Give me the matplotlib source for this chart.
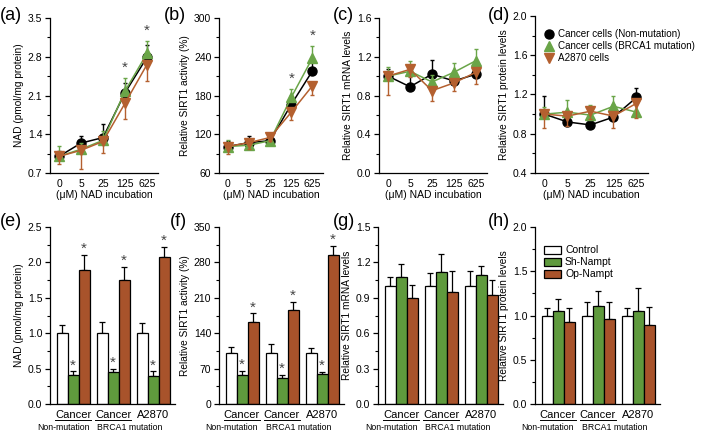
import matplotlib
matplotlib.use("Agg")
import matplotlib.pyplot as plt
import numpy as np
from matplotlib.ticker import MultipleLocator
from matplotlib.lines import Line2D
from matplotlib.patches import Patch

plt.rcParams.update({
    "font.family": "sans-serif",
    "font.sans-serif": ["Liberation Sans", "DejaVu Sans"],
    "font.size": 7,
    "axes.linewidth": 0.9,
})

# ---- data: top row, NAD incubation (uM) ----
doses = ["0", "5", "25", "125", "625"]

nad_non = [1.00, 1.24, 1.34, 2.15, 2.79]
nad_non_err = [0.10, 0.12, 0.24, 0.18, 0.22]
nad_brca = [1.00, 1.13, 1.29, 2.18, 2.86]
nad_brca_err = [0.19, 0.12, 0.16, 0.23, 0.22]
nad_a2870 = [1.00, 1.11, 1.27, 1.96, 2.66]
nad_a2870_err = [0.13, 0.33, 0.20, 0.28, 0.30]

act_non = [101, 107, 110, 166, 218]
act_non_err = [8, 10, 6, 14, 18]
act_brca = [101, 103, 110, 177, 238]
act_brca_err = [10, 8, 6, 13, 19]
act_a2870 = [101, 107, 115, 154, 195]
act_a2870_err = [12, 10, 6, 12, 14]

mrna_non = [1.00, 0.89, 1.02, 0.95, 1.02]
mrna_non_err = [0.07, 0.11, 0.15, 0.07, 0.12]
mrna_brca = [1.00, 1.05, 0.94, 1.04, 1.16]
mrna_brca_err = [0.09, 0.11, 0.07, 0.10, 0.12]
mrna_a2870 = [1.00, 1.07, 0.85, 0.93, 1.04]
mrna_a2870_err = [0.19, 0.08, 0.11, 0.08, 0.12]

prot_non = [1.00, 0.92, 0.89, 0.97, 1.17]
prot_non_err = [0.18, 0.08, 0.06, 0.12, 0.10]
prot_brca = [1.00, 1.02, 0.99, 1.08, 1.02]
prot_brca_err = [0.07, 0.12, 0.10, 0.10, 0.13]
prot_a2870 = [1.00, 0.98, 1.03, 0.98, 1.11]
prot_a2870_err = [0.14, 0.10, 0.08, 0.12, 0.15]

# ---- data: bottom row, Nampt manipulation ----
groups = ["Cancer", "Cancer", "A2870"]
sublabels = ["Non-mutation", "BRCA1 mutation"]

b_nad_ctrl = [1.00, 1.00, 1.00]
b_nad_ctrl_err = [0.12, 0.16, 0.14]
b_nad_sh = [0.41, 0.45, 0.40]
b_nad_sh_err = [0.05, 0.04, 0.06]
b_nad_op = [1.89, 1.75, 2.07]
b_nad_op_err = [0.21, 0.18, 0.15]

b_act_ctrl = [100, 100, 100]
b_act_ctrl_err = [13, 18, 10]
b_act_sh = [57, 52, 59]
b_act_sh_err = [8, 5, 4]
b_act_op = [163, 186, 295]
b_act_op_err = [16, 16, 17]

b_mrna_ctrl = [1.00, 1.00, 1.00]
b_mrna_ctrl_err = [0.08, 0.11, 0.13]
b_mrna_sh = [1.08, 1.12, 1.09]
b_mrna_sh_err = [0.11, 0.15, 0.08]
b_mrna_op = [0.90, 0.95, 0.92]
b_mrna_op_err = [0.11, 0.18, 0.13]

b_prot_ctrl = [1.00, 1.00, 1.00]
b_prot_ctrl_err = [0.09, 0.15, 0.08]
b_prot_sh = [1.05, 1.11, 1.05]
b_prot_sh_err = [0.14, 0.17, 0.26]
b_prot_op = [0.93, 0.96, 0.89]
b_prot_op_err = [0.15, 0.19, 0.21]

BLACK = "#000000"
GREEN_L = "#6aa548"
BROWN_L = "#b4602f"
GREEN_B = "#5f9a3d"
BROWN_B = "#a8532b"
STAR = "#444444"

W, H = 702, 433
fig = plt.figure(figsize=(W / 100, H / 100), dpi=100)


def axes_px(left, top, right, bottom):
    return fig.add_axes([left / W, 1 - bottom / H, (right - left) / W, (bottom - top) / H])


def style(ax, ylim, major):
    for s in ("top", "right"):
        ax.spines[s].set_visible(False)
    ax.set_ylim(*ylim)
    ax.yaxis.set_major_locator(MultipleLocator(major))
    ax.yaxis.set_minor_locator(MultipleLocator(major / 2))
    ax.tick_params(axis="y", which="major", direction="out", length=3.5, width=0.9, labelsize=7.5, pad=2)
    ax.tick_params(axis="y", which="minor", direction="out", length=2, width=0.8)
    ax.tick_params(axis="x", length=0, labelsize=7.5, pad=4)


def line_panel(ax, series, ylim, major, ylabel, stars=()):
    x = np.arange(len(doses))
    specs = [(BLACK, "o", 1), (GREEN_L, "^", 1), (BROWN_L, "v", -1)]
    order = [0, 2, 1]
    for k in order:
        vals, errs = series[k]
        col, mk, side = specs[k]
        vals = np.array(vals)
        errs = np.array(errs)
        yerr = [np.zeros_like(errs), errs] if side > 0 else [errs, np.zeros_like(errs)]
        ax.errorbar(x, vals, yerr=yerr, color=col, marker=mk, ms=6.5, lw=1.1,
                    elinewidth=1.0, capsize=1.5, capthick=1.0, mec=col, zorder=3 + k)
    for i in stars:
        top = max(series[0][0][i] + series[0][1][i], series[1][0][i] + series[1][1][i])
        ax.text(i, top + 0.02 * (ylim[1] - ylim[0]), "*", ha="center", va="bottom",
                fontsize=11, color=STAR)
    style(ax, ylim, major)
    ax.set_xlim(-0.41, 4.5)
    ax.set_xticks(x)
    ax.set_xticklabels(doses)
    ax.set_xlabel("(\u03bcM) NAD incubation", fontsize=7.5, labelpad=1)
    ax.set_ylabel(ylabel, fontsize=7.3, labelpad=3)


def bar_panel(ax, ctrl, sh, op, ylim, major, ylabel, stars=False):
    x = np.arange(len(groups))
    w = 0.275
    cfg = [(ctrl, "white", -w), (sh, GREEN_B, 0), (op, BROWN_B, w)]
    for (vals, errs), col, off in cfg:
        ax.bar(x + off, vals, w, color=col, edgecolor="black", linewidth=0.9, zorder=2)
        ax.errorbar(x + off, vals, yerr=[np.zeros(3), errs], fmt="none", ecolor="black",
                    elinewidth=0.9, capsize=2.5, capthick=0.9, zorder=1)
    if stars:
        span = ylim[1] - ylim[0]
        for (vals, errs), off in [(sh, 0), (op, w)]:
            for i in range(3):
                ax.text(x[i] + off, vals[i] + errs[i] - 0.005 * span, "*", ha="center",
                        va="bottom", fontsize=11, color=STAR)
    style(ax, ylim, major)
    ax.set_xlim(-0.575, 2.55)
    ax.set_xticks(x)
    ax.set_xticklabels(groups, fontsize=8)
    ax.set_ylabel(ylabel, fontsize=7.3, labelpad=3)
    tr = ax.get_xaxis_transform()
    for i in (0, 1):
        ax.plot([x[i] - 0.44, x[i] + 0.44], [-0.088, -0.088], color="black", lw=0.7,
                transform=tr, clip_on=False)
    ax.text(x[0] - 0.25, -0.135, sublabels[0], transform=tr, ha="center", va="center", fontsize=6.3)
    ax.text(x[1] - 0.41, -0.135, sublabels[1], transform=tr, ha="left", va="center", fontsize=6.3)


# ---- top row ----
ax_a = axes_px(50, 18, 158, 173)
line_panel(ax_a, [(nad_non, nad_non_err), (nad_brca, nad_brca_err), (nad_a2870, nad_a2870_err)],
           (0.7, 3.5), 0.7, "NAD (pmol/mg protein)", stars=(3, 4))

ax_b = axes_px(219, 18, 323, 173)
line_panel(ax_b, [(act_non, act_non_err), (act_brca, act_brca_err), (act_a2870, act_a2870_err)],
           (60, 300), 60, "Relative SIRT1 activity (%)", stars=(3, 4))

ax_c = axes_px(379, 18, 487, 173)
line_panel(ax_c, [(mrna_non, mrna_non_err), (mrna_brca, mrna_brca_err), (mrna_a2870, mrna_a2870_err)],
           (0.0, 1.6), 0.4, "Relative SIRT1 mRNA levels")

ax_d = axes_px(535, 16, 648, 173)
line_panel(ax_d, [(prot_non, prot_non_err), (prot_brca, prot_brca_err), (prot_a2870, prot_a2870_err)],
           (0.4, 2.0), 0.4, "Relative SIRT1 protein levels")

leg_h = [Line2D([], [], color=BLACK, marker="o", lw=0, ms=6.5),
         Line2D([], [], color=GREEN_L, marker="^", lw=0, ms=6.5),
         Line2D([], [], color=BROWN_L, marker="v", lw=0, ms=6.5)]
ax_d.legend(leg_h, ["Cancer cells (Non-mutation)", "Cancer cells (BRCA1 mutation)", "A2870 cells"],
            loc="upper left", bbox_to_anchor=(0.04, 0.94), frameon=False, fontsize=7.1,
            handletextpad=0.3, labelspacing=0.2, borderaxespad=0, handlelength=1.2)

# ---- bottom row ----
ax_e = axes_px(50, 227, 175, 404)
bar_panel(ax_e, (b_nad_ctrl, b_nad_ctrl_err), (b_nad_sh, b_nad_sh_err), (b_nad_op, b_nad_op_err),
          (0, 2.5), 0.5, "NAD (pmol/mg protein)", stars=True)

ax_f = axes_px(219, 227, 344, 404)
bar_panel(ax_f, (b_act_ctrl, b_act_ctrl_err), (b_act_sh, b_act_sh_err), (b_act_op, b_act_op_err),
          (0, 350), 70, "Relative SIRT1 activity (%)", stars=True)

ax_g = axes_px(378, 227, 503, 404)
bar_panel(ax_g, (b_mrna_ctrl, b_mrna_ctrl_err), (b_mrna_sh, b_mrna_sh_err), (b_mrna_op, b_mrna_op_err),
          (0, 1.5), 0.3, "Relative SIRT1 mRNA levels")

ax_h = axes_px(535, 227, 660, 404)
bar_panel(ax_h, (b_prot_ctrl, b_prot_ctrl_err), (b_prot_sh, b_prot_sh_err), (b_prot_op, b_prot_op_err),
          (0, 2.0), 0.5, "Relative SIRT1 protein levels")

bar_h = [Patch(facecolor="white", edgecolor="black", lw=0.9),
         Patch(facecolor=GREEN_B, edgecolor="black", lw=0.9),
         Patch(facecolor=BROWN_B, edgecolor="black", lw=0.9)]
ax_h.legend(bar_h, ["Control", "Sh-Nampt", "Op-Nampt"], loc="upper left",
            bbox_to_anchor=(0.04, 0.92), frameon=False, fontsize=7.5, handletextpad=0.4,
            labelspacing=0.2, borderaxespad=0, handlelength=1.6, handleheight=0.8)

# ---- panel letters ----
for lab, px, py in [("(a)", 0, 16), ("(b)", 164, 16), ("(c)", 333, 16), ("(d)", 488, 16),
                    ("(e)", 0, 222), ("(f)", 170, 222), ("(g)", 333, 222), ("(h)", 488, 222)]:
    fig.text(px / W, 1 - py / H, lab, fontsize=13, ha="left", va="center")

fig.savefig("out.png", dpi=100)
